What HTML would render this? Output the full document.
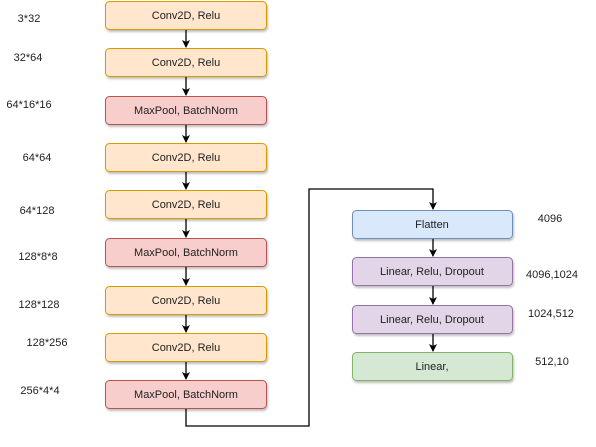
<!DOCTYPE html>
<html><head><style>body{margin:0;background:#fff}svg{display:block}text{font-family:"Liberation Sans",sans-serif;font-size:11px;fill:#222}</style></head><body>
<svg width="596" height="447" viewBox="0 0 596 447">
<defs><marker id="a" markerWidth="8" markerHeight="8" refX="7" refY="4" orient="auto" markerUnits="userSpaceOnUse"><path d="M0,0 L8,4 L0,8 L2,4z" fill="#000"/></marker>
<filter id="s"><feDropShadow dx="1" dy="2" stdDeviation="1" flood-opacity="0.25"/></filter></defs>
<g stroke="#000" stroke-width="1.3" fill="none">
<line x1="186" y1="30" x2="186" y2="47" marker-end="url(#a)"/>
<line x1="186" y1="77" x2="186" y2="95" marker-end="url(#a)"/>
<line x1="186" y1="125" x2="186" y2="142" marker-end="url(#a)"/>
<line x1="186" y1="172" x2="186" y2="189" marker-end="url(#a)"/>
<line x1="186" y1="219" x2="186" y2="237" marker-end="url(#a)"/>
<line x1="186" y1="267" x2="186" y2="285" marker-end="url(#a)"/>
<line x1="186" y1="315" x2="186" y2="332" marker-end="url(#a)"/>
<line x1="186" y1="362" x2="186" y2="379" marker-end="url(#a)"/>
<polyline points="186,409 186,426 309,426 309,189 433,189 433,209" marker-end="url(#a)"/>
<line x1="433" y1="238" x2="433" y2="256" marker-end="url(#a)"/>
<line x1="433" y1="286" x2="433" y2="304" marker-end="url(#a)"/>
<line x1="433" y1="333" x2="433" y2="351" marker-end="url(#a)"/>
</g>
<g filter="url(#s)" stroke-width="1">
<rect x="105.5" y="1.5" width="161" height="28" rx="4" fill="#ffe6cc" stroke="#d79b00"/>
<rect x="105.5" y="48.5" width="161" height="28" rx="4" fill="#ffe6cc" stroke="#d79b00"/>
<rect x="105.5" y="96.5" width="161" height="28" rx="4" fill="#f8cecc" stroke="#b85450"/>
<rect x="105.5" y="143.5" width="161" height="28" rx="4" fill="#ffe6cc" stroke="#d79b00"/>
<rect x="105.5" y="190.5" width="161" height="28" rx="4" fill="#ffe6cc" stroke="#d79b00"/>
<rect x="105.5" y="238.5" width="161" height="28" rx="4" fill="#f8cecc" stroke="#b85450"/>
<rect x="105.5" y="286.5" width="161" height="28" rx="4" fill="#ffe6cc" stroke="#d79b00"/>
<rect x="105.5" y="333.5" width="161" height="28" rx="4" fill="#ffe6cc" stroke="#d79b00"/>
<rect x="105.5" y="380.5" width="161" height="28" rx="4" fill="#f8cecc" stroke="#b85450"/>
<rect x="352.5" y="210.5" width="160" height="28" rx="4" fill="#dae8fc" stroke="#6c8ebf"/>
<rect x="352.5" y="257.5" width="160" height="28" rx="4" fill="#e1d5e7" stroke="#9673a6"/>
<rect x="352.5" y="305.5" width="160" height="28" rx="4" fill="#e1d5e7" stroke="#9673a6"/>
<rect x="352.5" y="352.5" width="160" height="28" rx="4" fill="#d5e8d4" stroke="#82b366"/>
</g>
<g text-anchor="middle">
<text x="186" y="19">Conv2D, Relu</text>
<text x="186" y="66">Conv2D, Relu</text>
<text x="186" y="114">MaxPool, BatchNorm</text>
<text x="186" y="161">Conv2D, Relu</text>
<text x="186" y="208">Conv2D, Relu</text>
<text x="186" y="256">MaxPool, BatchNorm</text>
<text x="186" y="304">Conv2D, Relu</text>
<text x="186" y="351">Conv2D, Relu</text>
<text x="186" y="398">MaxPool, BatchNorm</text>
<text x="432" y="228">Flatten</text>
<text x="432" y="275">Linear, Relu, Dropout</text>
<text x="432" y="323">Linear, Relu, Dropout</text>
<text x="432" y="370">Linear,</text>
<text x="29" y="22">3*32</text>
<text x="28" y="61">32*64</text>
<text x="29" y="108">64*16*16</text>
<text x="37" y="161">64*64</text>
<text x="37" y="214">64*128</text>
<text x="38" y="260">128*8*8</text>
<text x="39" y="308">128*128</text>
<text x="47" y="346">128*256</text>
<text x="40" y="394">256*4*4</text>
<text x="550" y="222">4096</text>
<text x="552" y="278">4096,1024</text>
<text x="551" y="317">1024,512</text>
<text x="552" y="365">512,10</text>
</g>
</svg>
</body></html>
